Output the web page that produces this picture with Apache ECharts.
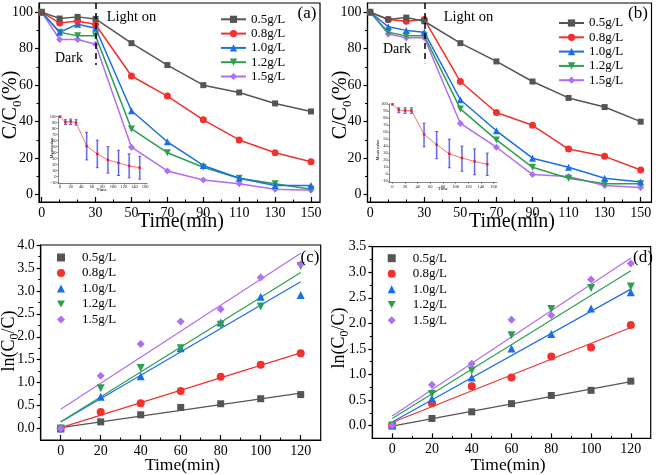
<!DOCTYPE html>
<html><head><meta charset="utf-8">
<script src="https://cdn.jsdelivr.net/npm/echarts@6/dist/echarts.min.js"></script>
<style>html,body{margin:0;padding:0;background:#fff}#c{width:661px;height:475px}</style>
</head><body><div id="c"></div>
<script>
// ---------- data ----------
const concNames = ['0.5g/L','0.8g/L','1.0g/L','1.2g/L','1.5g/L'];
const timeAB = [0,10,20,30,50,70,90,110,130,150];
const xLabelsAB = [0,30,50,70,90,110,130,150];
const xMinorAB = [10,20,40,60,80,100,120,140];
const yLabelsAB = [0,20,40,60,80,100];
const yMinorAB = [10,30,50,70,90];

const a05 = [100,96.5,97.4,96.3,83,71,60,56,50,45.6];
const a08 = [100,94,95.2,93.2,65,54,41,30,23,18];
const a10 = [100,89,93.4,91.2,46,29,16,9,5,5];
const a12 = [100,89,87,87,36,23,15,9,6,3];
const a15 = [100,85,85,82.4,26,13,8,6,3,2.5];

const b05 = [100,96,97,95,83,73,62,53,48,40];
const b08 = [100,96,95,96,62,45,38,25,21,13.5];
const b10 = [100,92,90,89,52,35,20,15,9,7];
const b12 = [100,89,87,87,47,30,15,9,6,6];
const b15 = [100,88,86,86,39,26,11,10,5,4];

const insetXLabels = [0,20,40,60,80,100,120,140,160];
const insetYLabels = [-10,0,10,20,30,40,50,60,70,80,90,100];
const insetAMean = [100,91,92,90,51,38,28,23,18,15];
const insetALow  = [100,87,87,86,28,15,6,2,-2,-4];
const insetAHigh = [100,95,96,95,74,61,50,44,38,34];
const insetBMean = [100,92,91,91,57,42,29,23,18,14];
const insetBLow  = [100,88,87,87,39,22,9,4,-1,-2];
const insetBHigh = [100,95,95,95,73,61,50,40,36,30];

const lightOnTime = 30;
const dashedRangeA = [105, 71];
const dashedRangeB = [105, 72];

const timeCD = [0,20,40,60,80,100,120];
const xLabelsCD = [0,20,40,60,80,100,120];
const xMinorCD = [10,30,50,70,90,110];
const yLabelsC = [0,0.5,1,1.5,2,2.5,3,3.5,4];
const yLabelsD = [0,0.5,1,1.5,2,2.5,3,3.5];
const yMinorC = [0.25,0.75,1.25,1.75,2.25,2.75,3.25,3.75];
const yMinorD = [0.25,0.75,1.25,1.75,2.25,2.75,3.25];
const fitX = [0,120];

const c05 = [0,0.145,0.30,0.46,0.54,0.65,0.74];
const c08 = [0,0.36,0.55,0.82,1.13,1.39,1.64];
const c10 = [0,0.69,1.14,1.75,2.31,2.87,2.91];
const c12 = [0,0.88,1.32,1.75,2.26,2.66,3.54];
const c15 = [0,1.15,1.84,2.33,2.60,3.29,3.58];
const cFit05 = [0.02,0.77];
const cFit08 = [0.02,1.65];
const cFit10 = [0.14,3.20];
const cFit12 = [0.15,3.40];
const cFit15 = [0.42,3.82];

const d05 = [0,0.14,0.27,0.43,0.59,0.69,0.87];
const d08 = [0,0.44,0.77,0.94,1.35,1.53,1.97];
const d10 = [0,0.53,0.94,1.51,1.79,2.29,2.61];
const d12 = [0,0.62,1.08,1.77,2.28,2.69,2.72];
const d15 = [0,0.80,1.21,2.07,2.16,2.86,3.17];
const dFit05 = [-0.01,0.86];
const dFit08 = [0.06,1.92];
const dFit10 = [0.07,2.67];
const dFit12 = [0.14,3.03];
const dFit15 = [0.19,3.28];

// ---------- style ----------
const FF = 'Liberation Serif';
const colors = ['#555555','#f2302e','#1a6ee6','#2e9e50','#b06ef0'];
const DOWN_TRI = 'path://M0,0L10,0L5,9Z';
const syms = ['rect','circle','triangle',DOWN_TRI,'diamond'];

const chart = echarts.init(document.getElementById('c'), null, {renderer:'canvas'});

const grids = [
  {left:39, top:3, width:281, height:199},
  {left:367.5, top:3, width:284, height:199},
  {left:40.7, top:245, width:280, height:195},
  {left:372.3, top:246.7, width:278.4, height:191.7},
  {left:58, top:116.1, width:89.2, height:67.2},
  {left:389.3, top:103.6, width:107.4, height:78.8}
].map((g,i)=>Object.assign({
  show: i<4, borderColor:'#000', borderWidth:1.2, backgroundColor:'transparent',
  containLabel:false, outerBoundsMode:'none'
}, g));

function majAxis(dim, gi, min, max, labels, fmt, fs){
  const isX = dim==='x';
  return {type:'value', gridIndex:gi, min, max, position: isX?'bottom':'left',
    axisLine:{show:true, onZero:false, lineStyle:{color:'#000', width:1.2}},
    axisTick:{show:true, inside:isX, length:isX?5:4, customValues:labels, lineStyle:{color:'#000', width:1.2}},
    axisLabel:{show:true, customValues:labels, color:'#000', fontFamily:FF, fontSize:fs||14,
      margin: isX?4:6, formatter: fmt || (v=>String(v))},
    splitLine:{show:false}, minorTick:{show:false}};
}
function minAxis(dim, gi, min, max, vals){
  const isX = dim==='x';
  return {type:'value', gridIndex:gi, min, max, position: isX?'bottom':'left',
    axisLine:{show:false, onZero:false},
    axisTick:{show:true, inside:isX, length:2.5, customValues:vals, lineStyle:{color:'#000', width:1}},
    axisLabel:{show:false}, splitLine:{show:false}};
}
function insetAxis(dim, gi, min, max, labels){
  const isX = dim==='x';
  return {type:'value', gridIndex:gi, min, max, position: isX?'bottom':'left',
    axisLine:{show:true, onZero:false, lineStyle:{color:'#333', width:0.6}},
    axisTick:{show:true, inside:false, length:1.5, customValues:labels, lineStyle:{color:'#333', width:0.5}},
    axisLabel:{show:true, customValues:labels, color:'#222', fontFamily:FF, fontSize:4.5, margin:1.5},
    splitLine:{show:false}};
}
const f1 = v=>v.toFixed(1);
const xAxis = [
  majAxis('x',0,-1.5,155,xLabelsAB,null,14), minAxis('x',0,-1.5,155,xMinorAB),
  majAxis('x',1,-1.5,156,xLabelsAB,null,14), minAxis('x',1,-1.5,156,xMinorAB),
  majAxis('x',2,-10,130,xLabelsCD,null,14), minAxis('x',2,-10,130,xMinorCD),
  majAxis('x',3,-10,130,xLabelsCD,null,14), minAxis('x',3,-10,130,xMinorCD),
  insetAxis('x',4,-4,164,insetXLabels), insetAxis('x',5,-5,165,insetXLabels)
];
const yAxis = [
  majAxis('y',0,-4,105,yLabelsAB,null,14), minAxis('y',0,-4,105,yMinorAB),
  majAxis('y',1,-4,105,yLabelsAB,null,14), minAxis('y',1,-4,105,yMinorAB),
  majAxis('y',2,-0.25,4,yLabelsC,f1,14), minAxis('y',2,-0.25,4,yMinorC),
  majAxis('y',3,-0.25,3.5,yLabelsD,f1,14), minAxis('y',3,-0.25,3.5,yMinorD),
  insetAxis('y',4,-11,101,insetYLabels), insetAxis('y',5,-12,101,insetYLabels)
];

const series = [];
const abSets = [[a05,a08,a10,a12,a15],[b05,b08,b10,b12,b15]];
const dashed = [dashedRangeA, dashedRangeB];
['a','b'].forEach((p,pi)=>{
  abSets[pi].forEach((arr,i)=>{
    const s = {type:'line', name:p+'|'+concNames[i], xAxisIndex:pi*2, yAxisIndex:pi*2,
      data: timeAB.map((t,j)=>[t, arr[j]]),
      symbol: syms[i], symbolSize: i===0?6:7,
      lineStyle:{width:1.5, color:colors[i]}, itemStyle:{color:colors[i]},
      z: 3 + (4-i)*0.1, animation:false};
    if (i===0) {
      s.markLine = {symbol:'none', silent:true, animation:false, label:{show:false},
        lineStyle:{type:[6,4], color:'#000', width:1.5},
        data:[[{coord:[lightOnTime, dashed[pi][0]]},{coord:[lightOnTime, dashed[pi][1]]}]]};
    }
    series.push(s);
  });
});
const cdSets = [[c05,c08,c10,c12,c15],[d05,d08,d10,d12,d15]];
const cdFits = [[cFit05,cFit08,cFit10,cFit12,cFit15],[dFit05,dFit08,dFit10,dFit12,dFit15]];
['c','d'].forEach((p,pi)=>{
  const ai = 4+pi*2;
  cdSets[pi].forEach((arr,i)=>{
    series.push({type:'line', name:p+'fit'+i, xAxisIndex:ai, yAxisIndex:ai,
      data: fitX.map((t,j)=>[t, cdFits[pi][i][j]]), symbol:'none',
      lineStyle:{width:1.2, color:colors[i]}, itemStyle:{color:colors[i]}, z:2, animation:false});
  });
  cdSets[pi].forEach((arr,i)=>{
    series.push({type:'scatter', name:p+'|'+concNames[i], xAxisIndex:ai, yAxisIndex:ai,
      data: timeCD.map((t,j)=>[t, arr[j]]),
      symbol: syms[i], symbolSize: i===0?7:8,
      itemStyle:{color:colors[i], opacity:1}, z:3, animation:false});
  });
});
// insets
const insets = [[insetAMean,insetALow,insetAHigh],[insetBMean,insetBLow,insetBHigh]];
insets.forEach((ins,k)=>{
  const ai = 8+k;
  series.push({type:'custom', name:'err'+k, xAxisIndex:ai, yAxisIndex:ai,
    data: timeAB.map((t,j)=>[t, ins[1][j], ins[2][j]]),
    encode:{x:0, y:[1,2]}, z:4, animation:false,
    renderItem:(params, api)=>{
      const x = api.value(0), lo = api.value(1), hi = api.value(2);
      if (lo===hi) return {type:'group', children:[]};
      const p1 = api.coord([x, lo]), p2 = api.coord([x, hi]);
      const st = {stroke:'#5a5ae6', lineWidth:1};
      return {type:'group', children:[
        {type:'rect', shape:{x:p1[0]-1, y:p2[1], width:2, height:p1[1]-p2[1]}, style:{fill:'rgba(140,140,240,0.55)'}},
        {type:'line', shape:{x1:p1[0], y1:p1[1], x2:p2[0], y2:p2[1]}, style:st},
        {type:'line', shape:{x1:p1[0]-1.5, y1:p1[1], x2:p1[0]+1.5, y2:p1[1]}, style:st},
        {type:'line', shape:{x1:p2[0]-1.5, y1:p2[1], x2:p2[0]+1.5, y2:p2[1]}, style:st}
      ]};
    }});
  series.push({type:'line', name:'mean'+k, xAxisIndex:ai, yAxisIndex:ai,
    data: timeAB.map((t,j)=>[t, ins[0][j]]), symbol:'rect', symbolSize:2.5,
    lineStyle:{width:0.8, color:'#f25050'}, itemStyle:{color:'#f02020'}, z:5, animation:false});
});

function mkLegend(p, left, top, isLine){
  return {show:true, orient:'vertical', left, top, padding:0,
    data: concNames.map(n=>p+'|'+n), selectedMode:false,
    itemWidth: isLine?25:8, itemHeight: isLine?9:8, itemGap: isLine?1.3:2.5,
    formatter: n=>n.split('|')[1],
    textStyle:{fontFamily:FF, fontSize:13, color:'#000', lineHeight: isLine?13:12,
      padding: isLine?[0,0,0,0]:[0,0,0,12]}};
}
const legend = [
  mkLegend('a', 220, 12.8, true),
  mkLegend('b', 558, 16.5, true),
  mkLegend('c', 57, 251, false),
  mkLegend('d', 387.7, 251.7, false)
];

function txt(x,y,text,fs,extra){
  return Object.assign({type:'text', x, y, z:100, silent:true,
    style:{text, fontFamily:FF, fontSize:fs, fill:'#000', align:'center', verticalAlign:'middle'}}, extra||{});
}
function rtxt(x,y,text,fs,subfs){
  return {type:'text', x, y, rotation:Math.PI/2, z:100, silent:true,
    style:{text, fontFamily:FF, fontSize:fs, fill:'#000', align:'center', verticalAlign:'middle',
      lineHeight: fs+6, rich:{s:{fontFamily:FF, fontSize:subfs, fill:'#000', verticalAlign:'bottom'}}}};
}
const graphic = [
  txt(181,222,'Time(min)',20), txt(512,222,'Time(min)',20),
  txt(182.5,465,'Time(min)',17.5), txt(508,465,'Time(min)',17.5),
  rtxt(11,105,'C/C{s|0}(%)',20,13), rtxt(341,105,'C/C{s|0}(%)',20,13),
  rtxt(9,341,'ln(C{s|0}/C)',18,12), rtxt(339,338,'ln(C{s|0}/C)',18,12),
  txt(131.5,17.5,'Light on',14.5), txt(468.5,17,'Light on',14.5),
  txt(69,58,'Dark',14), txt(397,49,'Dark',14),
  txt(307,14,'(a)',17), txt(638,14,'(b)',17), txt(310,258,'(c)',17), txt(643,258,'(d)',17),
  rtxt(52,148,'Mean value',4.5,4), rtxt(378,150,'Mean value',4.5,4),
  txt(101.7,190,'Time',5), txt(443,189,'Time',5)
];

chart.setOption({animation:false, backgroundColor:'#fff', grid:grids, xAxis, yAxis, series, legend, graphic});
</script></body></html>
